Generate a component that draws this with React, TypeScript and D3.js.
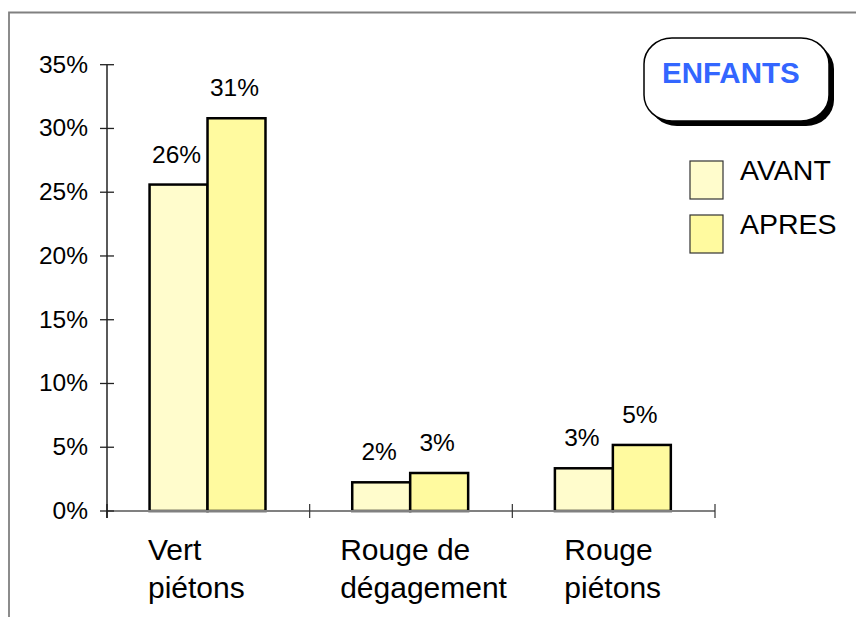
import React from "react";
import * as d3 from "d3";

// Part of children (%) per pedestrian signal phase, before and after
const categories = ["Vert piétons", "Rouge de dégagement", "Rouge piétons"];
const categoryLines = [["Vert", "piétons"], ["Rouge de", "dégagement"], ["Rouge", "piétons"]];
const seriesNames = ["AVANT", "APRES"];
const avantValues = [25.6, 2.25, 3.35];
const apresValues = [30.8, 2.98, 5.18];
const yTicks = [0, 5, 10, 15, 20, 25, 30, 35];
const title = "ENFANTS";

// Layout
const W = 856;
const H = 617;
const plot = { left: 107, right: 715, top: 64.7, bottom: 511 };
const labelDx = [41, 30.5, 52];
const colors = ["#FFFCCC", "#FFFA9F"];
const FONT = "'Liberation Sans', Arial, Helvetica, sans-serif";

export default function App() {
  const x = d3.scaleBand<string>().domain(categories).range([plot.left, plot.right]).padding(0);
  const bw = x.bandwidth();
  const xs = d3
    .scaleBand<string>()
    .domain(seriesNames)
    .range([bw * 0.21, bw * 0.782])
    .padding(0);
  const y = d3.scaleLinear().domain([0, 35]).range([plot.bottom, plot.top]);
  const series = [avantValues, apresValues];
  const boundaries = [...categories.map((c) => x(c) as number), plot.right];

  return (
    <svg
      width={W}
      height={H}
      style={{ position: "absolute", left: 0, top: 0, display: "block", background: "#fff" }}
      fontFamily={FONT}
    >
      {/* frame */}
      <path d={`M9,${H} V12.5 H${W}`} fill="none" stroke="#808080" strokeWidth={1.8} />

      {/* bars */}
      {series.map((vals, si) =>
        categories.map((c, ci) => {
          const x0 = (x(c) as number) + (xs(seriesNames[si]) as number);
          const y0 = y(vals[ci]);
          return (
            <g key={`${si}-${ci}`}>
              <rect
                x={x0}
                y={y0}
                width={xs.bandwidth()}
                height={plot.bottom - y0}
                fill={colors[si]}
                stroke="#000"
                strokeWidth={2.5}
              />
              <text
                x={x0 + xs.bandwidth() / 2 - 2}
                y={y0 - 22}
                textAnchor="middle"
                fontSize={24.5}
                fill="#000"
              >
                {`${Math.round(vals[ci])}%`}
              </text>
            </g>
          );
        })
      )}

      {/* x axis */}
      <line x1={plot.left} x2={plot.right} y1={plot.bottom} y2={plot.bottom} stroke="#808080" strokeWidth={2} />
      {boundaries.map((bx, i) => (
        <line key={i} x1={bx} x2={bx} y1={plot.bottom - 7} y2={plot.bottom + 7} stroke="#333" strokeWidth={1.2} />
      ))}

      {/* y axis */}
      <line x1={plot.left} x2={plot.left} y1={plot.top} y2={plot.bottom + 7} stroke="#000" strokeWidth={1.3} />
      {yTicks.map((t) => (
        <g key={t}>
          <line x1={plot.left - 7} x2={plot.left + 7} y1={y(t)} y2={y(t)} stroke="#222" strokeWidth={1.3} />
          <text x={88} y={y(t) + 8} textAnchor="end" fontSize={24.5} fill="#000">
            {`${t}%`}
          </text>
        </g>
      ))}

      {/* category labels */}
      {categories.map((c, ci) => (
        <text key={c} x={(x(c) as number) + labelDx[ci]} y={560} fontSize={30} fill="#000">
          {categoryLines[ci].map((line, li) => (
            <tspan key={li} x={(x(c) as number) + labelDx[ci]} dy={li === 0 ? 0 : 38}>
              {line}
            </tspan>
          ))}
        </text>
      ))}

      {/* title box */}
      <rect x={649} y={43} width={185} height={83} rx={28} ry={26} fill="#000" />
      <rect x={644} y={38} width={185} height={83} rx={28} ry={26} fill="#fff" stroke="#000" strokeWidth={1.5} />
      <text x={662} y={82.5} fontSize={29.5} fontWeight="bold" fill="#3366FF">
        {title}
      </text>

      {/* legend */}
      {seriesNames.map((s, i) => (
        <g key={s}>
          <rect x={690} y={161 + i * 54} width={33} height={38} fill={colors[i]} stroke="#333" strokeWidth={1.2} />
          <text x={740} y={180 + i * 54} fontSize={28.5} fill="#000">
            {s}
          </text>
        </g>
      ))}
    </svg>
  );
}
